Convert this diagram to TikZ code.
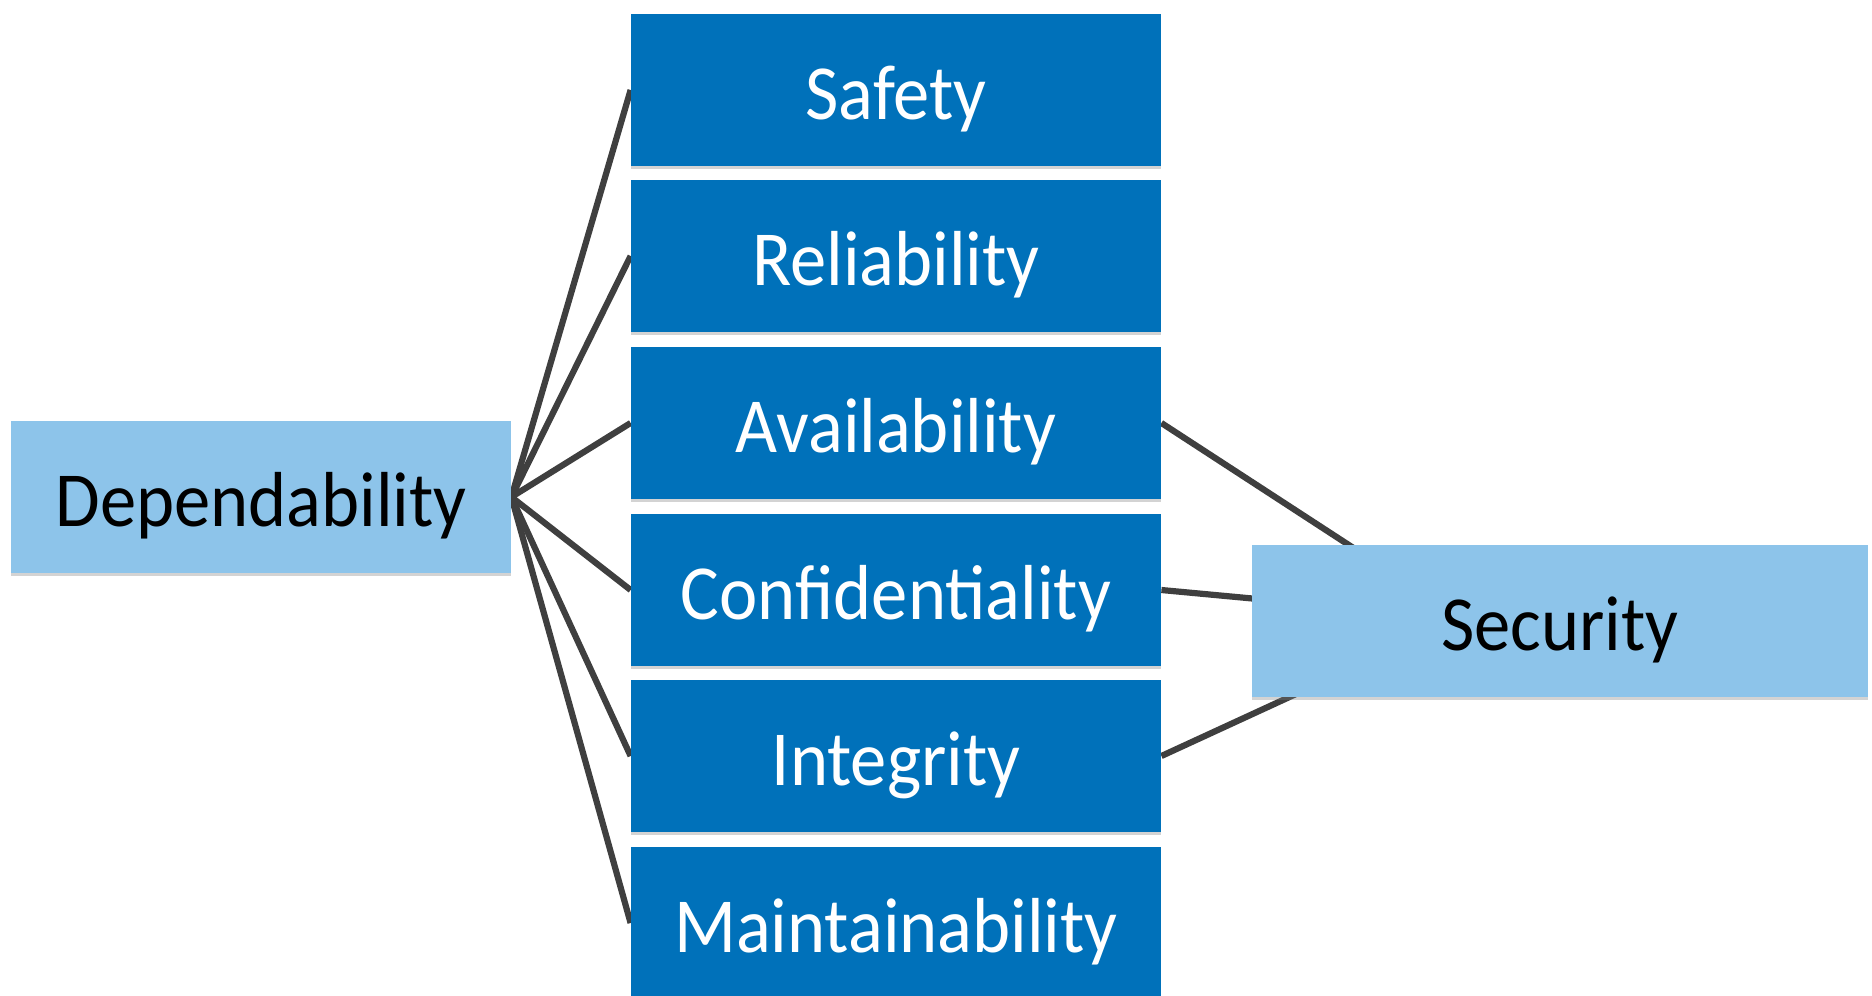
\documentclass[tikz,border=0pt]{standalone}
\usepackage{fontspec}
\setmainfont[FakeStretch=0.93]{Carlito}
\usetikzlibrary{backgrounds,shadows}
\definecolor{kobalt}{HTML}{0071BA}
\definecolor{himmel}{HTML}{8DC4EA}
\definecolor{kohle}{HTML}{3F3F3F}

\tikzset{
    attr/.style={fill=kobalt, text=white, minimum width=265pt, minimum height=76pt, inner sep=0pt,
        text height=29.4pt, text depth=0pt,
        drop shadow={shadow xshift=0pt, shadow yshift=-1.5pt, opacity=0.35, fill=gray}},
    goal/.style={fill=himmel, text=black, minimum height=76pt, inner sep=0pt,
        text height=29.4pt, text depth=0pt,
        drop shadow={shadow xshift=0pt, shadow yshift=-1.5pt, opacity=0.35, fill=gray}},
    link/.style={draw=kohle, line width=3.1pt}
}

\begin{document}
\begin{tikzpicture}[x=0.5pt, y=-0.5pt, font=\fontsize{39}{43}\selectfont]
    \useasboundingbox (0, 0) rectangle (1872, 995);

    \node[goal, minimum width=250pt] (dep) at (261, 497) {Dependability};
    \node[goal, minimum width=308pt] (sec) at (1560, 621) {Security};
    \coordinate (shub) at (1461, 618);

    \foreach \name / \txt / \y in {saf/Safety/90, rel/Reliability/256, ava/Availability/423,
                                   con/Confidentiality/590, int/Integrity/756, mai/Maintainability/923}
        \node[attr] (\name) at (896, \y) {\txt};

    \begin{scope}[on background layer]
        \foreach \name in {saf, rel, ava, con, int, mai}
            \draw[link] (dep.east) -- (\name.west);
        \foreach \name in {ava, con, int}
            \draw[link] (\name.east) -- (shub);
    \end{scope}

\end{tikzpicture}
\end{document}
